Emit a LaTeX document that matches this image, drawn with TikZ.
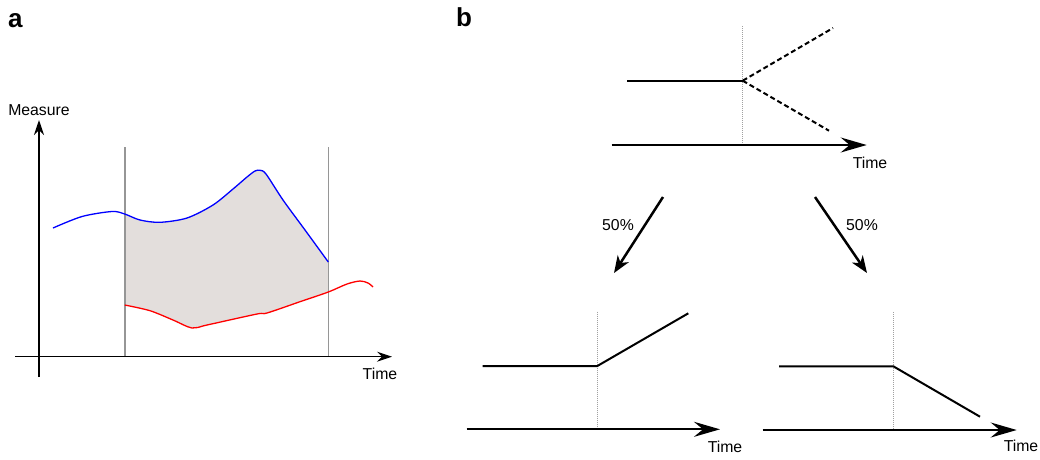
\documentclass[tikz,border=0pt]{standalone}
\usepackage{fontspec}
\setmainfont{Liberation Sans}
\usetikzlibrary{arrows.meta}
\definecolor{areagray}{RGB}{227,222,220}
\definecolor{wgray}{RGB}{150,150,150}
\definecolor{dgray}{RGB}{160,160,160}
\begin{document}
\begin{tikzpicture}[x=1pt,y=-1pt,
  lbl/.style={font=\fontsize{15.8}{18}\selectfont, anchor=base, inner sep=0pt},
  panel/.style={font=\fontsize{26}{30}\selectfont\bfseries, anchor=base west, inner sep=0pt},
  axa/.style={line width=1.2pt, -{Stealth[length=15pt,width=10pt,inset=5pt]}},
  axb/.style={line width=2pt, -{Stealth[length=26pt,width=15pt,inset=9pt]}},
  trend/.style={line width=2pt, line join=round},
  future/.style={line width=2pt, dash pattern=on 5pt off 3pt},
  split/.style={dgray, line width=0.8pt, dash pattern=on 1pt off 1pt},
  prob/.style={line width=2.5pt, -{Stealth[length=17pt,width=13pt,inset=5pt]}},
  window/.style={wgray, line width=1.6pt},
  curve/.style={line width=1.3pt},
]
\useasboundingbox (0,0) rectangle (1040,459);

% ---------------- panel a ----------------
\node[panel] (la) at (8,27) {a};

\fill[areagray] plot[smooth] coordinates {(124.7,214) (140,220) (160,222.3) (187,218) (213,205) (233,189) (247,177) (255,171) (260,170.3) (266,174) (283,200) (305,230) (328.3,262)}
  -- plot[smooth] coordinates {(328.3,292) (300,301.7) (267,313) (257,314) (207,325) (192,328) (173,320) (150,310.7) (124.7,305)} -- cycle;

\coordinate (w1t) at (124.7,147); \coordinate (w1b) at (124.7,356.7);
\coordinate (w2t) at (328.3,147); \coordinate (w2b) at (328.3,356.7);
\draw[window] (w1t) -- (w1b);
\draw[window] (w2t) -- (w2b);

\draw[curve, blue] plot[smooth] coordinates {(53,228) (82,216.5) (112,211.5) (124.7,214) (140,220) (160,222.3) (187,218) (213,205) (233,189) (247,177) (255,171) (260,170.3) (266,174) (283,200) (305,230) (328.3,262)};
\draw[curve, red] plot[smooth] coordinates {(124.7,305) (150,310.7) (173,320) (192,328) (207,325) (257,314) (267,313) (300,301.7) (328.3,292) (347,284) (360,281) (368,283) (373,287)};

\coordinate (ya0) at (39,377); \coordinate (ya1) at (39,120);
\coordinate (xa0) at (15,356.7); \coordinate (xa1) at (392,356.7);
\draw[axa] (ya0) -- (ya1);
\draw[axa] (xa0) -- (xa1);
\node[lbl] (meas) at (39,115) {Measure};
\node[lbl] (timea) at (380,379) {Time};

% ---------------- panel b ----------------
\node[panel] (lb) at (456,26) {b};

% top
\coordinate (ts0) at (742.7,26); \coordinate (ts1) at (742.7,145);
\draw[split] (ts0) -- (ts1);
\coordinate (t0) at (627,80.7); \coordinate (tb) at (742.7,80.7);
\coordinate (tu) at (833,28); \coordinate (td) at (829,130.7);
\draw[trend] (t0) -- (tb);
\draw[future] (tb) -- (tu);
\draw[future] (tb) -- (td);
\coordinate (tx0) at (611.7,145); \coordinate (tx1) at (866.7,145);
\draw[axb] (tx0) -- (tx1);
\node[lbl] (timet) at (870,168.3) {Time};

% probability arrows
\coordinate (p1a) at (663,197); \coordinate (p1b) at (614,273);
\coordinate (p2a) at (815,197); \coordinate (p2b) at (867,273);
\draw[prob] (p1a) -- (p1b);
\draw[prob] (p2a) -- (p2b);
\node[lbl] (pl) at (618,230) {50\%};
\node[lbl] (pr) at (862,230) {50\%};

% bottom left
\coordinate (ls0) at (597.3,311.7); \coordinate (ls1) at (597.3,429.3);
\draw[split] (ls0) -- (ls1);
\coordinate (l0) at (482.7,366); \coordinate (lb1) at (597.3,366); \coordinate (lu) at (688.3,313.3);
\draw[trend] (l0) -- (lb1) -- (lu);
\coordinate (lx0) at (466.7,429.3); \coordinate (lx1) at (720,429.3);
\draw[axb] (lx0) -- (lx1);
\node[lbl] (timel) at (725,452) {Time};

% bottom right
\coordinate (rs0) at (893.3,312); \coordinate (rs1) at (893.3,430);
\draw[split] (rs0) -- (rs1);
\coordinate (r0) at (779,366.3); \coordinate (rb1) at (893.3,366.3); \coordinate (rd) at (980,416.7);
\draw[trend] (r0) -- (rb1) -- (rd);
\coordinate (rx0) at (762.7,430); \coordinate (rx1) at (1016.7,430);
\draw[axb] (rx0) -- (rx1);
\node[lbl] (timer) at (1021,451.7) {Time};
\end{tikzpicture}
\end{document}
